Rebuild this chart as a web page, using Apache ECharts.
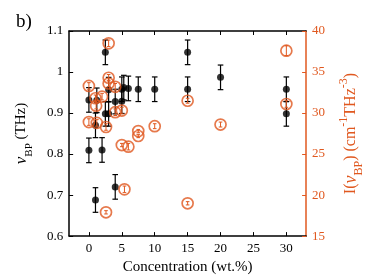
<!DOCTYPE html>
<html>
<head>
<meta charset="utf-8">
<script src="https://cdn.jsdelivr.net/npm/echarts@6/dist/echarts.min.js"></script>
<style>html,body{margin:0;padding:0;background:#fff}#c{width:374px;height:280px}</style>
</head>
<body>
<div id="c"></div>
<script>
// x tick values
const xTicks = [0, 5, 10, 15, 20, 25, 30];
// nu_BP (THz) vs concentration
const nuX = [0, 0, 1.0, 1.0, 1.2, 2.0, 2.5, 2.5, 3.0, 3.0, 4.0, 4.0, 5.0, 5.0, 5.3, 6.0, 7.5, 10, 15, 15, 20, 30, 30];
const nuY = [0.932, 0.809, 0.870, 0.688, 0.931, 0.810, 1.048, 0.898, 0.898, 0.957, 0.928, 0.720, 0.929, 0.958, 0.962, 0.960, 0.958, 0.958, 1.048, 0.958, 0.987, 0.958, 0.898];
const nuErr = [0.03, 0.03, 0.03, 0.03, 0.03, 0.03, 0.03, 0.03, 0.03, 0.03, 0.03, 0.03, 0.03, 0.03, 0.03, 0.03, 0.03, 0.03, 0.03, 0.03, 0.03, 0.03, 0.03];
// I(nu_BP) vs concentration
const intX = [0, 0, 1.0, 1.1, 1.2, 2.0, 2.6, 2.6, 3.0, 3.0, 3.0, 4.0, 4.0, 5.0, 5.0, 5.4, 6.0, 7.5, 7.5, 10, 15, 15, 20, 30, 30];
const intY = [33.3, 28.9, 31.8, 30.9, 28.8, 32.0, 28.3, 17.9, 38.5, 34.3, 33.6, 33.2, 30.1, 30.3, 26.1, 20.7, 25.9, 27.8, 27.2, 28.4, 31.5, 19.0, 28.6, 37.6, 31.1];
const intErr = [0.4, 0.4, 0.4, 0.4, 0.4, 0.4, 0.4, 0.2, 0.4, 0.4, 0.4, 0.4, 0.4, 0.4, 0.2, 0.4, 0.4, 0.2, 0.2, 0.3, 0.3, 0.2, 0.3, 0.6, 0.4];

const ORANGE = '#E0581F';
const FONT = 'Liberation Serif';

const nuData = nuX.map((x, i) => [x, nuY[i], nuErr[i]]);
const intData = intX.map((x, i) => [x, intY[i], intErr[i]]);

function errBar(color, cap, lw) {
  return function (params, api) {
    const x = api.value(0), y = api.value(1), e = api.value(2);
    const lo = api.coord([x, y - e]);
    const hi = api.coord([x, y + e]);
    const st = { stroke: color, lineWidth: lw };
    return {
      type: 'group',
      children: [
        { type: 'line', shape: { x1: lo[0], y1: lo[1], x2: hi[0], y2: hi[1] }, style: st },
        { type: 'line', shape: { x1: lo[0] - cap, y1: lo[1], x2: lo[0] + cap, y2: lo[1] }, style: st },
        { type: 'line', shape: { x1: hi[0] - cap, y1: hi[1], x2: hi[0] + cap, y2: hi[1] }, style: st }
      ]
    };
  };
}

const chart = echarts.init(document.getElementById('c'), null, { renderer: 'canvas' });
chart.setOption({
  animation: false,
  backgroundColor: '#fff',
  title: {
    text: 'b)', left: 11, top: 8,
    textStyle: { fontFamily: FONT, fontSize: 19, fontWeight: 'normal', color: '#000' }
  },
  grid: { left: 62, right: 50, top: 31, bottom: 39 },
  xAxis: [
    {
      type: 'value', position: 'bottom', min: -3, max: 33,
      name: 'Concentration (wt.%)', nameLocation: 'middle', nameGap: 21,
      nameTextStyle: { fontFamily: FONT, fontSize: 15, color: '#000' },
      axisLine: { show: true, onZero: false, lineStyle: { color: '#000', width: 1.5 } },
      axisTick: { show: true, inside: true, length: 4, customValues: xTicks, lineStyle: { color: '#000', width: 1 } },
      axisLabel: { customValues: xTicks, fontFamily: FONT, fontSize: 13, color: '#000', margin: 6 },
      splitLine: { show: false }
    },
    {
      type: 'value', position: 'top', min: -3, max: 33,
      axisLine: { show: true, onZero: false, lineStyle: { color: '#000', width: 1.5 } },
      axisTick: { show: true, inside: true, length: 4, customValues: xTicks, lineStyle: { color: '#000', width: 1 } },
      axisLabel: { show: false },
      splitLine: { show: false }
    }
  ],
  yAxis: [
    {
      type: 'value', position: 'left', min: 0.6, max: 1.1, interval: 0.1,
      name: '{nu|ν}{sub|BP}{m| (THz)}', nameLocation: 'middle', nameRotate: 90, nameGap: 26,
      nameTextStyle: {
        fontFamily: FONT, color: '#000',
        rich: {
          nu: { fontFamily: FONT, fontSize: 17, fontStyle: 'italic', lineHeight: 17, padding: [5, 0, 6, 0], color: '#000' },
          m: { fontFamily: FONT, fontSize: 15, lineHeight: 17, padding: [5, 0, 6, 0], color: '#000' },
          sub: { fontFamily: FONT, fontSize: 11, lineHeight: 12, padding: [15, 0, 1, 0], color: '#000' }
        }
      },
      axisLine: { show: true, onZero: false, lineStyle: { color: '#000', width: 1.5 } },
      axisTick: { show: true, inside: true, length: 4, lineStyle: { color: '#000', width: 1 } },
      axisLabel: { fontFamily: FONT, fontSize: 13, color: '#000', margin: 6 },
      splitLine: { show: false }
    },
    {
      type: 'value', position: 'right', min: 15, max: 40, interval: 5,
      name: '{m|I(}{nu|ν}{sub|BP}{m|) (cm}{sup|-1}{m|THz}{sup|-3}{m|)}',
      nameLocation: 'middle', nameRotate: 90, nameGap: 29,
      nameTextStyle: {
        fontFamily: FONT, color: ORANGE,
        rich: {
          nu: { fontFamily: FONT, fontSize: 18, fontStyle: 'italic', lineHeight: 18, padding: [6, 0, 6, 0], color: ORANGE },
          m: { fontFamily: FONT, fontSize: 16, lineHeight: 18, padding: [6, 0, 6, 0], color: ORANGE },
          sub: { fontFamily: FONT, fontSize: 12, lineHeight: 13, padding: [16, 0, 1, 0], color: ORANGE },
          sup: { fontFamily: FONT, fontSize: 12, lineHeight: 13, padding: [1, 0, 16, 0], color: ORANGE }
        }
      },
      axisLine: { show: true, onZero: false, lineStyle: { color: ORANGE, width: 1.5 } },
      axisTick: { show: true, inside: true, length: 4, lineStyle: { color: ORANGE, width: 1 } },
      axisLabel: { fontFamily: FONT, fontSize: 13, color: ORANGE, margin: 6 },
      splitLine: { show: false }
    }
  ],
  series: [
    {
      type: 'custom', xAxisIndex: 0, yAxisIndex: 0, data: nuData,
      encode: { x: 0, y: 1 }, renderItem: errBar('#000', 2.8, 1.2), z: 2
    },
    {
      type: 'scatter', xAxisIndex: 0, yAxisIndex: 0, data: nuData,
      encode: { x: 0, y: 1 }, symbol: 'circle', symbolSize: 7,
      itemStyle: { color: '#000' }, z: 3
    },
    {
      type: 'custom', xAxisIndex: 0, yAxisIndex: 1, data: intData,
      encode: { x: 0, y: 1 }, renderItem: errBar(ORANGE, 1.8, 1), z: 4
    },
    {
      type: 'scatter', xAxisIndex: 0, yAxisIndex: 1, data: intData,
      encode: { x: 0, y: 1 }, symbol: 'circle', symbolSize: 11,
      itemStyle: { color: 'rgba(0,0,0,0)', borderColor: ORANGE, borderWidth: 1.7 }, z: 5
    }
  ]
});
</script>
</body>
</html>
